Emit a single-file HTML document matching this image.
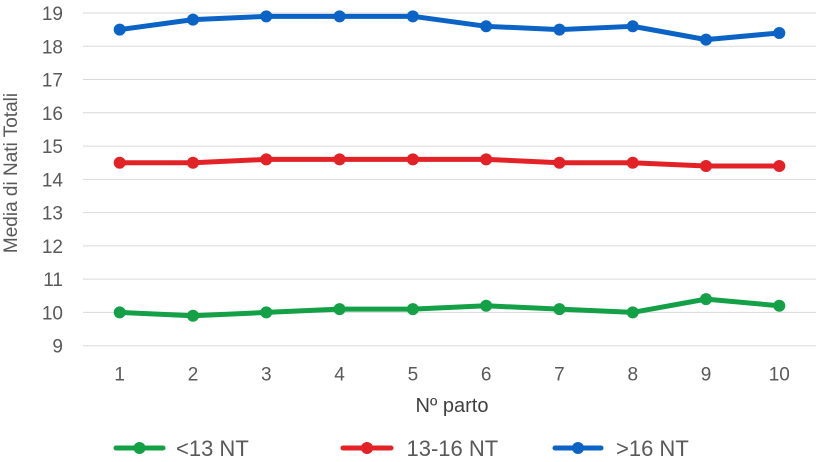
<!DOCTYPE html>
<html>
<head>
<meta charset="utf-8">
<style>
  html,body{margin:0;padding:0;background:#fff;}
  svg{display:block;}
  text{font-family:"Liberation Sans", Arial, sans-serif;}
</style>
</head>
<body>
<svg width="820" height="462" viewBox="0 0 820 462" xmlns="http://www.w3.org/2000/svg">
  <rect width="820" height="462" fill="#ffffff"/>
  <!-- gridlines -->
  <g stroke="#d9d9d9" stroke-width="1">
    <line x1="83" x2="816" y1="13" y2="13"/>
    <line x1="83" x2="816" y1="46.27" y2="46.27"/>
    <line x1="83" x2="816" y1="79.54" y2="79.54"/>
    <line x1="83" x2="816" y1="112.81" y2="112.81"/>
    <line x1="83" x2="816" y1="146.08" y2="146.08"/>
    <line x1="83" x2="816" y1="179.35" y2="179.35"/>
    <line x1="83" x2="816" y1="212.62" y2="212.62"/>
    <line x1="83" x2="816" y1="245.89" y2="245.89"/>
    <line x1="83" x2="816" y1="279.16" y2="279.16"/>
    <line x1="83" x2="816" y1="312.43" y2="312.43"/>
    <line x1="83" x2="816" y1="345.7" y2="345.7"/>
  </g>
  <!-- y tick labels -->
  <g fill="#595959" font-size="19" text-anchor="end">
    <text x="63" y="20">19</text>
    <text x="63" y="53.3">18</text>
    <text x="63" y="86.5">17</text>
    <text x="63" y="119.8">16</text>
    <text x="63" y="153.1">15</text>
    <text x="63" y="186.4">14</text>
    <text x="63" y="219.6">13</text>
    <text x="63" y="252.9">12</text>
    <text x="63" y="286.2">11</text>
    <text x="63" y="319.4">10</text>
    <text x="63" y="352.7">9</text>
  </g>
  <!-- x tick labels -->
  <g fill="#595959" font-size="19" text-anchor="middle">
    <text x="119.7" y="380.5">1</text>
    <text x="192.99" y="380.5">2</text>
    <text x="266.28" y="380.5">3</text>
    <text x="339.57" y="380.5">4</text>
    <text x="412.86" y="380.5">5</text>
    <text x="486.15" y="380.5">6</text>
    <text x="559.44" y="380.5">7</text>
    <text x="632.73" y="380.5">8</text>
    <text x="706.02" y="380.5">9</text>
    <text x="779.31" y="380.5">10</text>
  </g>
  <!-- axis titles -->
  <text x="452" y="412" font-size="20" fill="#404040" text-anchor="middle">Nº parto</text>
  <text transform="translate(17,173) rotate(-90)" font-size="19" fill="#595959" text-anchor="middle">Media di Nati Totali</text>

  <!-- blue series -->
  <g fill="#0b63c5">
    <polyline fill="none" stroke="#0b63c5" stroke-width="5" stroke-linejoin="round" stroke-linecap="round"
      points="119.7,29.6 192.99,19.65 266.28,16.33 339.57,16.33 412.86,16.33 486.15,26.31 559.44,29.6 632.73,26.31 706.02,39.62 779.31,32.96"/>
    <circle cx="119.7" cy="29.6" r="6"/>
    <circle cx="192.99" cy="19.65" r="6"/>
    <circle cx="266.28" cy="16.33" r="6"/>
    <circle cx="339.57" cy="16.33" r="6"/>
    <circle cx="412.86" cy="16.33" r="6"/>
    <circle cx="486.15" cy="26.31" r="6"/>
    <circle cx="559.44" cy="29.6" r="6"/>
    <circle cx="632.73" cy="26.31" r="6"/>
    <circle cx="706.02" cy="39.62" r="6"/>
    <circle cx="779.31" cy="32.96" r="6"/>
  </g>
  <!-- red series -->
  <g fill="#e32227">
    <polyline fill="none" stroke="#e32227" stroke-width="5" stroke-linejoin="round" stroke-linecap="round"
      points="119.7,162.72 192.99,162.72 266.28,159.39 339.57,159.39 412.86,159.39 486.15,159.39 559.44,162.72 632.73,162.72 706.02,166.04 779.31,166.04"/>
    <circle cx="119.7" cy="162.72" r="6"/>
    <circle cx="192.99" cy="162.72" r="6"/>
    <circle cx="266.28" cy="159.39" r="6"/>
    <circle cx="339.57" cy="159.39" r="6"/>
    <circle cx="412.86" cy="159.39" r="6"/>
    <circle cx="486.15" cy="159.39" r="6"/>
    <circle cx="559.44" cy="162.72" r="6"/>
    <circle cx="632.73" cy="162.72" r="6"/>
    <circle cx="706.02" cy="166.04" r="6"/>
    <circle cx="779.31" cy="166.04" r="6"/>
  </g>
  <!-- green series -->
  <g fill="#13a046">
    <polyline fill="none" stroke="#13a046" stroke-width="5" stroke-linejoin="round" stroke-linecap="round"
      points="119.7,312.43 192.99,315.76 266.28,312.43 339.57,309.1 412.86,309.1 486.15,305.78 559.44,309.1 632.73,312.43 706.02,299.12 779.31,305.78"/>
    <circle cx="119.7" cy="312.43" r="6"/>
    <circle cx="192.99" cy="315.76" r="6"/>
    <circle cx="266.28" cy="312.43" r="6"/>
    <circle cx="339.57" cy="309.1" r="6"/>
    <circle cx="412.86" cy="309.1" r="6"/>
    <circle cx="486.15" cy="305.78" r="6"/>
    <circle cx="559.44" cy="309.1" r="6"/>
    <circle cx="632.73" cy="312.43" r="6"/>
    <circle cx="706.02" cy="299.12" r="6"/>
    <circle cx="779.31" cy="305.78" r="6"/>
  </g>

  <!-- legend -->
  <g>
    <line x1="116" x2="163" y1="448" y2="448" stroke="#13a046" stroke-width="5" stroke-linecap="round"/>
    <circle cx="139.5" cy="448" r="6" fill="#13a046"/>
    <text x="176" y="456" font-size="22" fill="#595959">&lt;13 NT</text>

    <line x1="343" x2="391" y1="448" y2="448" stroke="#e32227" stroke-width="5" stroke-linecap="round"/>
    <circle cx="367" cy="448" r="6" fill="#e32227"/>
    <text x="406.5" y="456" font-size="22" fill="#595959">13-16 NT</text>

    <line x1="555" x2="601" y1="448" y2="448" stroke="#0b63c5" stroke-width="5" stroke-linecap="round"/>
    <circle cx="578" cy="448" r="6" fill="#0b63c5"/>
    <text x="616" y="456" font-size="22" fill="#595959">&gt;16 NT</text>
  </g>
</svg>
</body>
</html>
